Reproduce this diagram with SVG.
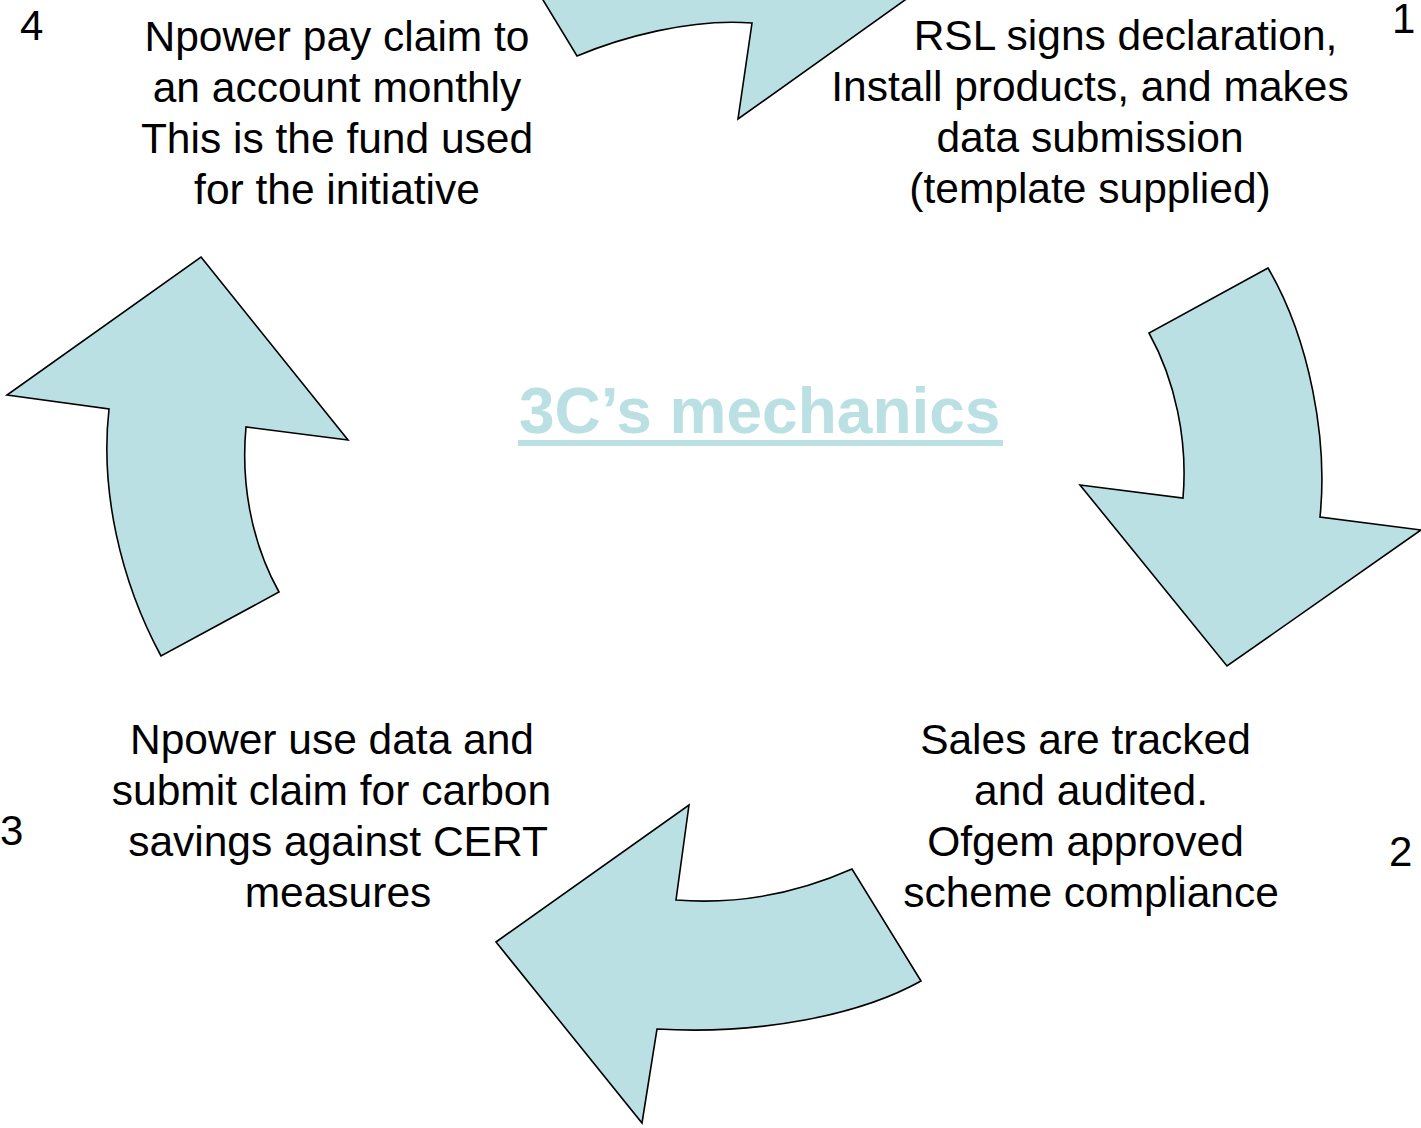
<svg xmlns="http://www.w3.org/2000/svg" width="1421" height="1128" viewBox="0 0 1421 1128">
<style>
.arrow{fill:#BAE0E3;stroke:#000;stroke-width:1.6;stroke-linejoin:miter}
.t{font-family:"Liberation Sans",Arial,sans-serif;font-size:42.5px;fill:#000;text-anchor:middle}
.n{font-family:"Liberation Sans",Arial,sans-serif;font-size:42px;fill:#000}
.title{font-family:"Liberation Sans",Arial,sans-serif;font-size:64px;font-weight:bold;fill:#BAE0E3}
</style>
<rect width="1421" height="1128" fill="#fff"/>
<g id="connectors">
<path id="arrow-top" class="arrow" d="M540,-5 L577,56 C620,38 690,18 752,23 L738,119 L912,-5 Z"/>
<path id="arrow-right" class="arrow" d="M1268,268 L1149,333 C1175,380 1188,440 1183,498 L1080,485 L1227,666 L1421,530 L1320,517 C1328,440 1310,340 1268,268 Z"/>
<path id="arrow-bottom" class="arrow" d="M689,805 L676,900 C740,905 800,892 852,869 L921,981 C860,1015 760,1035 657,1029 L642,1123 L496,942 Z"/>
<path id="arrow-left" class="arrow" d="M201,257 L348,440 L246,427 C241,480 250,540 279,592 L161,656 C120,580 100,490 109,409 L7,395 Z"/>
</g>
<g id="title">
<text class="title" x="519" y="433">3C’s mechanics</text>
<rect x="518" y="440" width="485" height="6" fill="#BAE0E3"/>
</g>
<g id="step1">
<text class="n" x="1392" y="33">1</text>
<text class="t" x="1125.5" y="50">RSL signs declaration,</text>
<text class="t" x="1090" y="101">Install products, and makes</text>
<text class="t" x="1090" y="152">data submission</text>
<text class="t" x="1090" y="203">(template supplied)</text>
</g>
<g id="step2">
<text class="n" x="1389" y="866">2</text>
<text class="t" x="1085.5" y="754">Sales are tracked</text>
<text class="t" x="1091" y="805">and audited.</text>
<text class="t" x="1085.5" y="856">Ofgem approved</text>
<text class="t" x="1091" y="907">scheme compliance</text>
</g>
<g id="step3">
<text class="n" x="0" y="845">3</text>
<text class="t" x="332" y="754">Npower use data and</text>
<text class="t" x="331.5" y="805">submit claim for carbon</text>
<text class="t" x="338" y="856">savings against CERT</text>
<text class="t" x="338" y="907">measures</text>
</g>
<g id="step4">
<text class="n" x="20" y="40">4</text>
<text class="t" x="337" y="51">Npower pay claim to</text>
<text class="t" x="337" y="102">an account monthly</text>
<text class="t" x="337" y="153">This is the fund used</text>
<text class="t" x="337" y="204">for the initiative</text>
</g>
</svg>
